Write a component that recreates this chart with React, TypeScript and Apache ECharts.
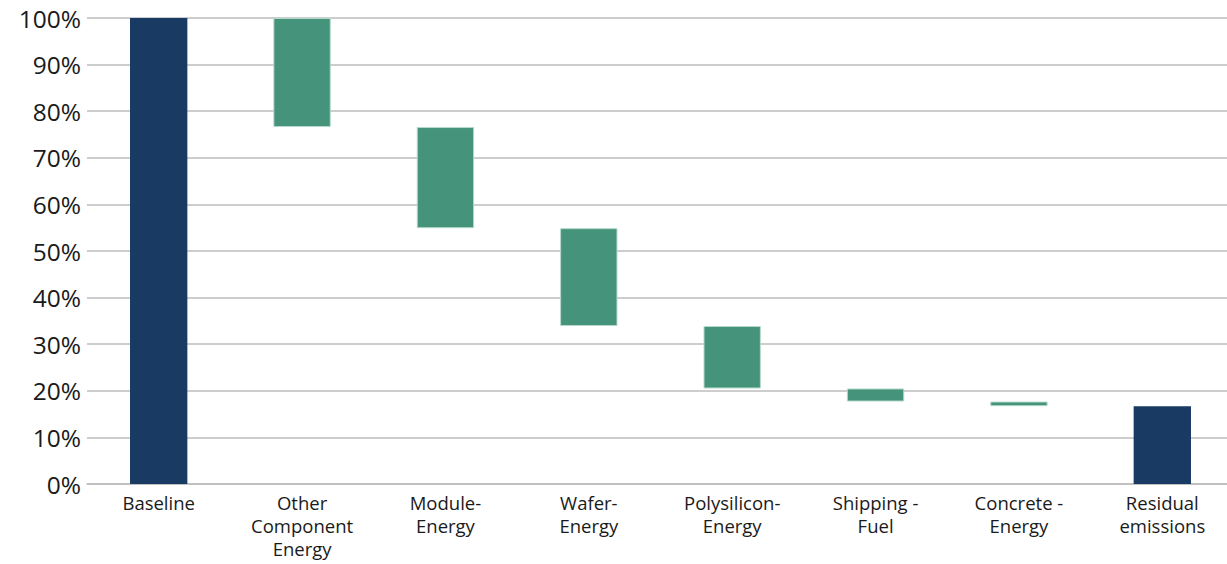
import React, { useEffect, useRef } from "react";
import * as echarts from "echarts";

const categories = [
  "Baseline",
  "Other\nComponent\nEnergy",
  "Module-\nEnergy",
  "Wafer-\nEnergy",
  "Polysilicon-\nEnergy",
  "Shipping -\nFuel",
  "Concrete -\nEnergy",
  "Residual\nemissions",
];
const baseline = 100;
const reductions = [23.4, 21.7, 21.0, 13.4, 2.8, 1.0];
const residual = 16.7;
const yTicks = { min: 0, max: 100, interval: 10 };

export default function App() {
  const ref = useRef<HTMLDivElement>(null);
  useEffect(() => {
    if (!ref.current) return;
    const chart = echarts.init(ref.current, null, { renderer: "svg" });
    const invisible: any[] = [0];
    const visible: any[] = [{ value: baseline, itemStyle: { color: "#183a63", borderWidth: 0 } }];
    let level = baseline;
    reductions.forEach((r) => {
      level -= r;
      invisible.push(level);
      visible.push(r);
    });
    invisible.push(0);
    visible.push({ value: residual, itemStyle: { color: "#183a63", borderWidth: 0 } });

    chart.setOption({
      animation: false,
      grid: { left: 87, right: 0, top: 18, bottom: 80, containLabel: false },
      xAxis: {
        type: "category",
        data: categories,
        axisTick: { show: false },
        axisLine: { show: true, lineStyle: { color: "#bdbdbd", width: 1.5 } },
        axisLabel: {
          interval: 0,
          color: "#1a1a1a",
          fontFamily: "Open Sans",
          fontSize: 18.5,
          lineHeight: 23,
          margin: 7,
        },
      },
      yAxis: {
        type: "value",
        min: yTicks.min,
        max: yTicks.max,
        interval: yTicks.interval,
        axisLabel: {
          formatter: "{value}%",
          color: "#1a1a1a",
          fontFamily: "Open Sans",
          fontSize: 24.5,
          margin: 6,
        },
        axisLine: { show: false },
        axisTick: { show: false },
        splitLine: { lineStyle: { color: "#bdbdbd", width: 1.5 } },
      },
      series: [
        {
          type: "bar",
          stack: "w",
          data: invisible,
          itemStyle: { color: "transparent" },
          silent: true,
          barWidth: "40%",
        },
        {
          type: "bar",
          stack: "w",
          data: visible,
          barWidth: "40%",
          itemStyle: { color: "#45937a", borderColor: "#b5d9cb", borderWidth: 1 },
        },
      ],
    });
    return () => chart.dispose();
  }, []);
  return (
    <div style={{ position: "absolute", left: 0, top: 0, width: 1227, height: 564, overflow: "hidden" }}>
      <div ref={ref} style={{ width: 1234, height: 564 }} />
    </div>
  );
}
